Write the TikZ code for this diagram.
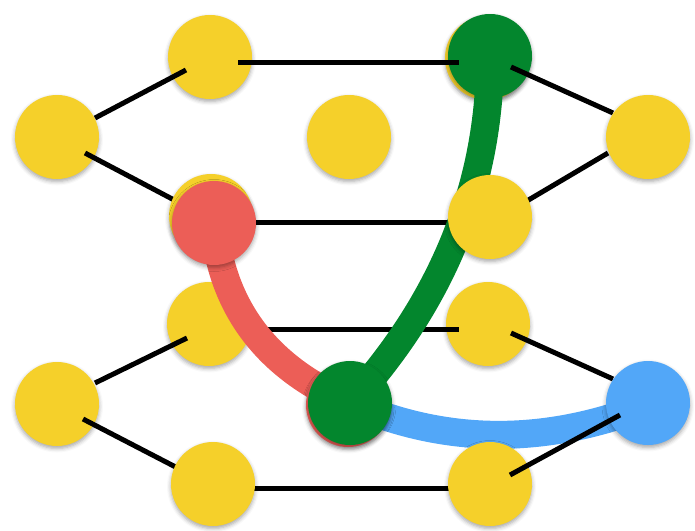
\documentclass[tikz,border=0pt]{standalone}
\usetikzlibrary{calc,shadows.blur}
\definecolor{yel}{HTML}{F5D02A}
\definecolor{grn}{HTML}{03862D}
\definecolor{rd}{HTML}{EC5E57}
\definecolor{blu}{HTML}{52A7F8}
\tikzset{
  dot/.style={circle, inner sep=0pt, minimum size=84pt, draw=none,
    blur shadow={shadow xshift=0pt, shadow yshift=-2.5pt,
                 shadow blur radius=4pt, shadow opacity=35}},
  ydot/.style={dot, fill=yel},
  edge/.style={line width=5pt, black},
  route/.style={line width=28pt},
}
\begin{document}
\begin{tikzpicture}[x=1pt, y=-1pt]
\useasboundingbox (0,0) rectangle (695,530);

% centres of the circles drawn later
\coordinate (Fc) at (214,223);
\coordinate (Gc) at (490,217);
\coordinate (Kc) at (350,403);
\coordinate (Lc) at (648,403);
\coordinate (Mc) at (213,484);
\coordinate (Nc) at (490,484);
\coordinate (Ec) at (648,137);

% bottom layer of circles
\node[ydot] (B) at (57,137) {};
\node[ydot] (A) at (210,57) {};
\node[ydot] (C) at (349,137) {};
\node[ydot] (Dy) at (487,58) {};
\node[dot, fill=grn] (D) at (490,56) {};
\node[ydot] (H) at (209,324) {};
\node[ydot] (I) at (488,324) {};
\node[ydot] (J) at (57,404) {};

% graph edges
\draw[edge] ($(B)+(38,-19)$) -- ($(A)+(-24,13)$);
\draw[edge] ($(A)+(28,5)$) -- ($(D)+(-31,6)$);
\draw[edge] ($(B)+(28,16)$) -- ($(Fc)+(-19,-12)$);
\draw[edge] ($(Fc)+(20,-1)$) -- ($(Gc)+(-20,5)$);
\draw[edge] ($(D)+(21,11)$) -- ($(Ec)+(-35,-24)$);
\draw[edge] ($(Gc)+(30,-12)$) -- ($(Ec)+(-40,16)$);
\draw[edge] ($(H)+(-22,14)$) -- ($(J)+(38,-21)$);
\draw[edge] ($(H)+(29,5)$) -- ($(I)+(-29,5)$);
\draw[edge] ($(I)+(23,9)$) -- ($(Lc)+(-35,-24)$);
\draw[edge] ($(J)+(26,15)$) -- ($(Mc)+(-20,-8)$);
\draw[edge] ($(Mc)+(20,4)$) -- ($(Nc)+(-20,4)$);

% highlighted routes
\draw[route, rd] (Fc) .. controls (221,307) and (267,368) .. (Kc);
\draw[route, grn] (D.center) .. controls (490,185) and (443,301) .. (Kc);
\draw[route, blu] (Kc) .. controls (437,441) and (527,445) .. ($(Lc)+(-28,12)$);

% top layer of circles
\node[ydot] (Fy) at (211,216) {};
\node[dot, fill=rd] (F) at (Fc) {};
\node[ydot] (G) at (Gc) {};
\node[dot, fill=rd] (Kr) at (348,405) {};
\node[dot, fill=grn] (K) at (Kc) {};
\node[dot, fill=blu] (L) at (Lc) {};
\node[ydot] (M) at (Mc) {};
\node[ydot] (N) at (Nc) {};
\node[ydot] (E) at (Ec) {};

% edge drawn over the blue circle
\draw[edge] ($(N)+(20,-9)$) -- ($(L)+(-28,12)$);
\end{tikzpicture}
\end{document}
